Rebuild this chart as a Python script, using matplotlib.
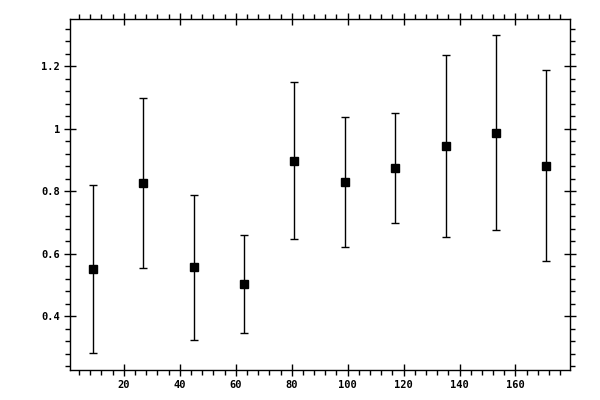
import matplotlib
matplotlib.use('Agg')
import matplotlib.pyplot as plt
from matplotlib.ticker import MultipleLocator, FuncFormatter

# values
x = [9, 27, 45, 63, 81, 99, 117, 135, 153, 171]
y = [0.552, 0.826, 0.558, 0.504, 0.898, 0.830, 0.875, 0.946, 0.987, 0.882]
y_low = [0.282, 0.555, 0.323, 0.346, 0.648, 0.622, 0.699, 0.654, 0.677, 0.578]
y_high = [0.819, 1.098, 0.789, 0.659, 1.150, 1.038, 1.051, 1.235, 1.300, 1.187]

err_lo = [v - lo for v, lo in zip(y, y_low)]
err_hi = [hi - v for v, hi in zip(y, y_high)]

fig = plt.figure(figsize=(6, 4), dpi=100)
ax = fig.add_axes([0.116, 0.075, 0.834, 0.8775])

ax.errorbar(x, y, yerr=[err_lo, err_hi], fmt='s', color='black',
            ms=5.2, elinewidth=1.0, capsize=3, capthick=1.0)

ax.set_xlim(0.6, 179.5)
ax.set_ylim(0.228, 1.351)

ax.xaxis.set_major_locator(MultipleLocator(20))
ax.xaxis.set_minor_locator(MultipleLocator(4))
ax.yaxis.set_major_locator(MultipleLocator(0.2))
ax.yaxis.set_minor_locator(MultipleLocator(0.04))
ax.yaxis.set_major_formatter(FuncFormatter(lambda v, p: f'{v:g}'))

ax.tick_params(which='major', direction='inout', length=8, width=1,
               top=True, right=True, labelsize=7.5, pad=3)
ax.tick_params(which='minor', direction='out', length=3.5, width=1,
               top=True, right=True)
for lab in ax.get_xticklabels() + ax.get_yticklabels():
    lab.set_family('DejaVu Sans Mono')
    lab.set_fontweight('bold')

for s in ax.spines.values():
    s.set_linewidth(1.0)

fig.savefig('out.png', dpi=100)
